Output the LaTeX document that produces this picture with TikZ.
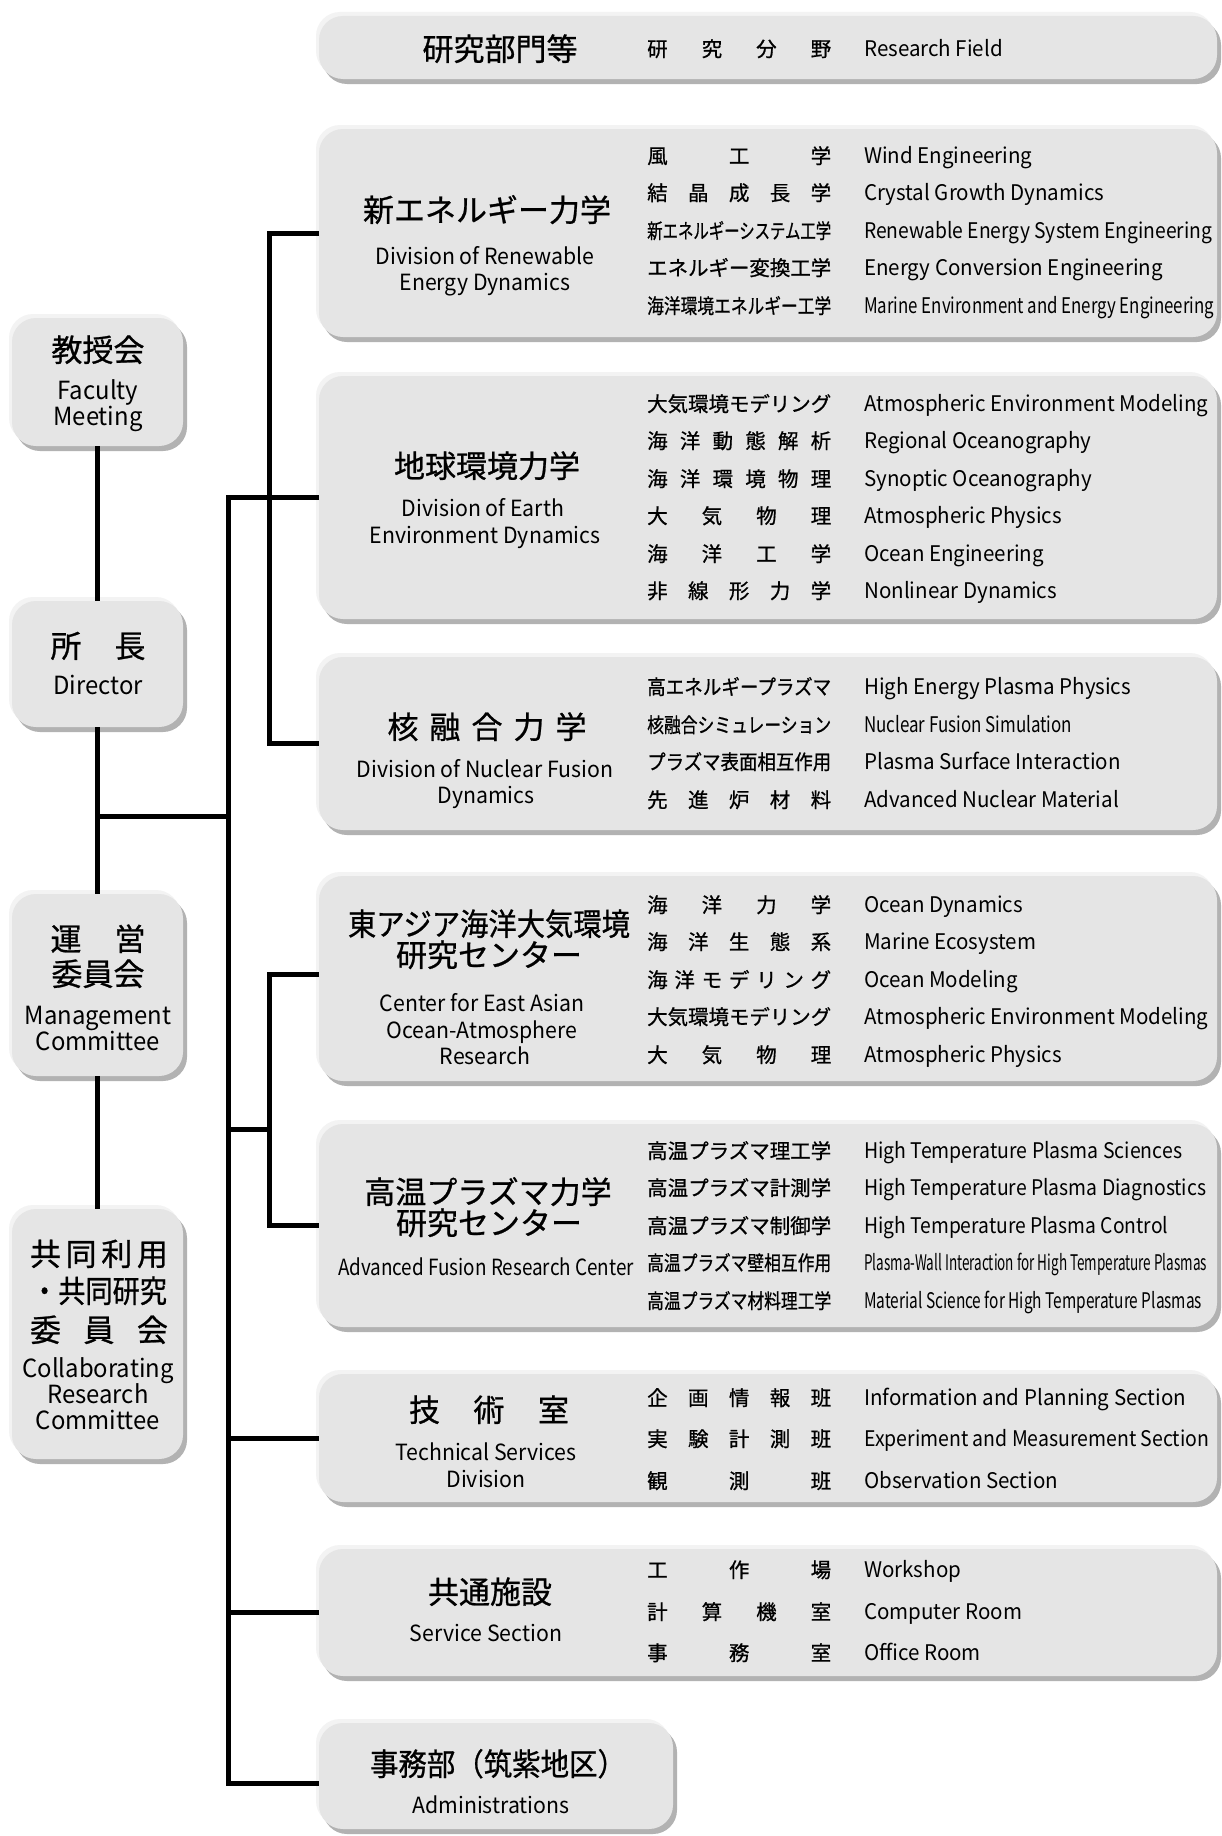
\documentclass[tikz,border=0pt]{standalone}
\usepackage{fontspec}
\usepackage{graphicx}
\setmainfont{Noto Sans CJK JP}[FakeStretch=0.955]
\newfontfamily\jp[FakeBold=0.8]{Noto Sans CJK JP}
\usetikzlibrary{shadows}
\definecolor{boxfill}{HTML}{E5E5E5}
\definecolor{boxhi}{HTML}{F3F3F3}
\definecolor{boxsh}{HTML}{B2B2B2}
\newcommand\jspread[1]{\makebox[184pt][s]{#1}}
\newcommand\jfit[1]{\resizebox{184pt}{\height}{#1}}
\newcommand\wfit[2]{\resizebox{#1}{\height}{#2}}
\newcommand\wspread[2]{\makebox[#1][s]{#2}}
\newcommand\mkpanel[5]{%
  \pgfmathsetmacro\pw{#4-#2-7}\pgfmathsetmacro\ph{#5-#3-9}%
  \pgfmathsetmacro\pcx{(#2+#4-1)/2}\pgfmathsetmacro\pcy{(#3+#5-1)/2}%
  \node[panel, minimum width=\pw pt, minimum height=\ph pt] (#1) at (\pcx,\pcy) {};}
\newcommand\frow[4]{%
  \node[fj] (#1j) at (647,#2) {#3};
  \node[fe] (#1e) at (864,#2) {#4};}
\begin{document}
\begin{tikzpicture}[x=1pt,y=-1pt,
  panel/.style={rounded corners=24pt, fill=boxfill, draw=none, inner sep=0pt, outer sep=0pt,
    general shadow={shadow xshift=-3pt, shadow yshift=4pt, fill=boxhi},
    general shadow={shadow xshift=4pt, shadow yshift=-5pt, fill=boxsh}},
  wire/.style={line width=5pt, line join=miter},
  fj/.style={anchor=base west, inner sep=0pt, yshift=-7.5pt, font=\jp\fontsize{20.5}{24}\selectfont},
  fe/.style={anchor=base west, inner sep=0pt, yshift=-7.5pt, font=\fontsize{21.5}{24}\selectfont},
  ttl/.style={anchor=base, inner sep=0pt, yshift=-11.5pt, font=\jp\fontsize{31}{34}\selectfont},
  den/.style={anchor=base, inner sep=0pt, yshift=-8pt, font=\fontsize{22.3}{26}\selectfont},
  len/.style={anchor=base, inner sep=0pt, yshift=-8.5pt, font=\fontsize{25}{27}\selectfont},
]
\useasboundingbox (0,0) rectangle (1221,1836);
\fill[white] (0,0) rectangle (1221,1836);

% panels
\mkpanel{hd}{316}{12}{1221}{84}
\mkpanel{b1}{316}{125}{1221}{342}
\mkpanel{b2}{316}{372}{1221}{624}
\mkpanel{b3}{316}{653}{1221}{835}
\mkpanel{b4}{316}{872}{1221}{1086}
\mkpanel{b5}{316}{1120}{1221}{1332}
\mkpanel{b6}{316}{1370}{1221}{1507}
\mkpanel{b7}{316}{1545}{1221}{1681}
\mkpanel{b8}{316}{1719}{677}{1834}
\mkpanel{L1}{9}{314}{187}{451}
\mkpanel{L2}{9}{597}{187}{732}
\mkpanel{L3}{9}{890}{187}{1081}
\mkpanel{L4}{9}{1205}{187}{1464}

% connectors
\coordinate (sp) at (228,0);
\coordinate (bx) at (269,0);
\coordinate (jL) at (97.5,816);
\coordinate (k2) at (228,1129);
\coordinate (a8) at ([yshift=-7pt]b8.west);
\coordinate (a4) at ([yshift=4.5pt]b4.west);
\draw[wire] (L1.south) -- (L2.north);
\draw[wire] (L2.south) -- (L3.north);
\draw[wire] (L3.south) -- (L4.north);
\draw[wire] (jL) -- (jL -| sp);
\draw[wire] (b2.west) -- (sp |- b2.west) -- (sp |- a8) -- (a8);
\draw[wire] (b1.west) -| (bx |- b3.west) -- (b3.west);
\draw[wire] (a4) -| (bx |- b5.west) -- (b5.west);
\draw[wire] (k2) -- (k2 -| bx);
\draw[wire] (sp |- b6.west) -- (b6.west);
\draw[wire] (sp |- b7.west) -- (b7.west);

% header
\node[ttl] (hdt) at (500,49) {研究部門等};
\frow{hr}{49}{\jspread{研\hfill 究\hfill 分\hfill 野}}{Research Field}

% box 1
\node[ttl] (t1) at (487,210) {新エネルギー力学};
\node[den] (d1a) at (485,256) {Division of Renewable};
\node[den] (d1b) at (485,282) {Energy Dynamics};
\frow{r11}{156}{\jspread{風\hfill 工\hfill 学}}{Wind Engineering}
\frow{r12}{193}{\jspread{結\hfill 晶\hfill 成\hfill 長\hfill 学}}{Crystal Growth Dynamics}
\frow{r13}{231}{\jfit{新エネルギーシステム工学}}{\wfit{348pt}{Renewable Energy System Engineering}}
\frow{r14}{268}{\jfit{エネルギー変換工学}}{Energy Conversion Engineering}
\frow{r15}{306}{\jfit{海洋環境エネルギー工学}}{\wfit{350pt}{Marine Environment and Energy Engineering}}

% box 2
\node[ttl] (t2) at (487,466) {地球環境力学};
\node[den] (d2a) at (483,508) {Division of Earth};
\node[den] (d2b) at (485,535) {Environment Dynamics};
\frow{r21}{404}{\jfit{大気環境モデリング}}{\wfit{344pt}{Atmospheric Environment Modeling}}
\frow{r22}{441}{\jspread{海\hfill 洋\hfill 動\hfill 態\hfill 解\hfill 析}}{Regional Oceanography}
\frow{r23}{479}{\jspread{海\hfill 洋\hfill 環\hfill 境\hfill 物\hfill 理}}{Synoptic Oceanography}
\frow{r24}{516}{\jspread{大\hfill 気\hfill 物\hfill 理}}{Atmospheric Physics}
\frow{r25}{554}{\jspread{海\hfill 洋\hfill 工\hfill 学}}{Ocean Engineering}
\frow{r26}{591}{\jspread{非\hfill 線\hfill 形\hfill 力\hfill 学}}{Nonlinear Dynamics}

% box 3
\node[ttl] (t3) at (487,727) {\wspread{199pt}{核\hfill 融\hfill 合\hfill 力\hfill 学}};
\node[den] (d3a) at (485,769) {Division of Nuclear Fusion};
\node[den] (d3b) at (486,795) {Dynamics};
\frow{r31}{687}{\jfit{高エネルギープラズマ}}{High Energy Plasma Physics}
\frow{r32}{725}{\jfit{核融合シミュレーション}}{\wfit{208pt}{Nuclear Fusion Simulation}}
\frow{r33}{762}{\jfit{プラズマ表面相互作用}}{Plasma Surface Interaction}
\frow{r34}{800}{\jspread{先\hfill 進\hfill 炉\hfill 材\hfill 料}}{Advanced Nuclear Material}

% box 4
\node[ttl] (t4a) at (489,924) {\wfit{282pt}{東アジア海洋大気環境}};
\node[ttl] (t4b) at (489,955) {研究センター};
\node[den] (d4a) at (482,1003) {Center for East Asian};
\node[den] (d4b) at (482,1030) {Ocean-Atmosphere};
\node[den] (d4c) at (485,1056) {Research};
\frow{r41}{905}{\jspread{海\hfill 洋\hfill 力\hfill 学}}{Ocean Dynamics}
\frow{r42}{942}{\jspread{海\hfill 洋\hfill 生\hfill 態\hfill 系}}{Marine Ecosystem}
\frow{r43}{980}{\jspread{海\hfill 洋\hfill モ\hfill デ\hfill リ\hfill ン\hfill グ}}{Ocean Modeling}
\frow{r44}{1017}{\jfit{大気環境モデリング}}{\wfit{344pt}{Atmospheric Environment Modeling}}
\frow{r45}{1055}{\jspread{大\hfill 気\hfill 物\hfill 理}}{Atmospheric Physics}

% box 5
\node[ttl] (t5a) at (488,1192) {高温プラズマ力学};
\node[ttl] (t5b) at (489,1223) {研究センター};
\node[den] (d5a) at (486,1267) {\wfit{296pt}{Advanced Fusion Research Center}};
\frow{r51}{1151}{\jfit{高温プラズマ理工学}}{\wfit{318pt}{High Temperature Plasma Sciences}}
\frow{r52}{1188}{\jfit{高温プラズマ計測学}}{\wfit{342pt}{High Temperature Plasma Diagnostics}}
\frow{r53}{1226}{\jfit{高温プラズマ制御学}}{\wfit{304pt}{High Temperature Plasma Control}}
\frow{r54}{1263}{\jfit{高温プラズマ壁相互作用}}{\wfit{343pt}{Plasma-Wall Interaction for High Temperature Plasmas}}
\frow{r55}{1301}{\jfit{高温プラズマ材料理工学}}{\wfit{338pt}{Material Science for High Temperature Plasmas}}

% box 6
\node[ttl] (t6) at (489,1410) {\wspread{160pt}{技\hfill 術\hfill 室}};
\node[den] (d6a) at (486,1452) {Technical Services};
\node[den] (d6b) at (486,1479) {Division};
\frow{r61}{1398}{\jspread{企\hfill 画\hfill 情\hfill 報\hfill 班}}{Information and Planning Section}
\frow{r62}{1439}{\jspread{実\hfill 験\hfill 計\hfill 測\hfill 班}}{\wfit{345pt}{Experiment and Measurement Section}}
\frow{r63}{1481}{\jspread{観\hfill 測\hfill 班}}{Observation Section}

% box 7
\node[ttl] (t7) at (490,1592) {共通施設};
\node[den] (d7a) at (486,1633) {Service Section};
\frow{r71}{1570}{\jspread{工\hfill 作\hfill 場}}{Workshop}
\frow{r72}{1612}{\jspread{計\hfill 算\hfill 機\hfill 室}}{Computer Room}
\frow{r73}{1653}{\jspread{事\hfill 務\hfill 室}}{Office Room}

% box 8
\node[ttl] (t8) at (498,1764) {\wfit{256pt}{事務部（筑紫地区）}};
\node[den] (d8a) at (491,1805) {Administrations};

% left column
\node[ttl] (l1a) at (98,350) {教授会};
\node[len] (l1b) at (98,391) {Faculty};
\node[len] (l1c) at (98,417) {Meeting};
\node[ttl] (l2a) at (98,646) {\wspread{95pt}{所\hfill 長}};
\node[len] (l2b) at (98,686) {Director};
\node[ttl] (l3a) at (98,939) {\wspread{95pt}{運\hfill 営}};
\node[ttl] (l3b) at (98,974) {委員会};
\node[len] (l3c) at (98,1016) {Management};
\node[len] (l3d) at (98,1042) {Committee};
\node[ttl] (l4a) at (99,1254) {\wspread{138pt}{共\hfill 同\hfill 利\hfill 用}};
\node[ttl] (l4b) at (99,1291) {\wfit{136pt}{・共同研究}};
\node[ttl] (l4c) at (99,1330) {\wspread{138pt}{委\hfill 員\hfill 会}};
\node[len] (l4d) at (98,1369) {Collaborating};
\node[len] (l4e) at (98,1395) {Research};
\node[len] (l4f) at (98,1421) {Committee};
\end{tikzpicture}
\end{document}
